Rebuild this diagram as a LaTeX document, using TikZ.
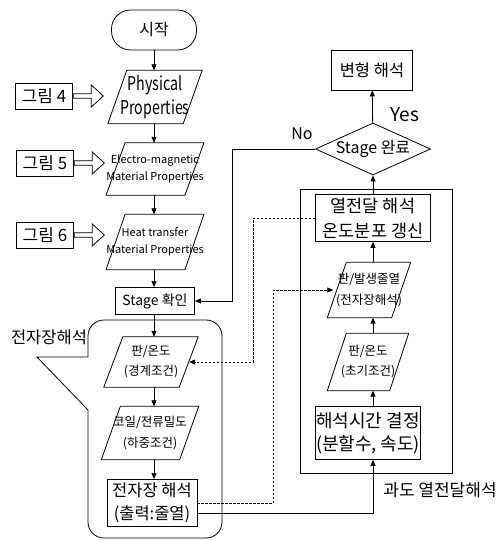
\documentclass[tikz,border=0pt]{standalone}
\usepackage{fontspec}
\setmainfont{Noto Sans CJK KR}
\newfontfamily\narrowfont{Noto Sans CJK KR}[FakeStretch=0.75]
\usetikzlibrary{positioning,arrows.meta,shapes.geometric,shapes.arrows}

\begin{document}
\begin{tikzpicture}[x=1pt,y=-1pt,>={Triangle[length=6pt,width=5pt]},
  box/.style={draw,line width=0.8pt,align=center,inner sep=0pt},
  io/.style={align=center,inner sep=0pt,
    append after command={\pgfextra{\let\ionode=\tikzlastnode
      \draw[line width=0.8pt] (\ionode.south west) -- ([xshift=19pt]\ionode.north west) -- (\ionode.north east) -- ([xshift=-19pt]\ionode.south east) -- cycle;}}},
  figbox/.style={draw,line width=0.8pt,minimum width=57,minimum height=26,inner sep=0pt,font=\fontsize{17}{20}\selectfont},
  fat/.style={draw,line width=0.8pt,single arrow,single arrow head extend=5.5pt,single arrow tip angle=85,minimum width=22,minimum height=30,inner sep=1pt},
  flow/.style={->,line width=0.8pt},
  link/.style={->,line width=0.8pt,dash pattern=on 2.5pt off 1.5pt}]
\useasboundingbox (0,0) rectangle (503,541);

\node[draw,line width=0.8pt,rounded corners=19pt,minimum width=85,minimum height=40,font=\fontsize{16}{19}\selectfont] (start) at (154,30) {시작};
\node[io,minimum width=94,minimum height=53,font=\narrowfont\fontsize{19}{24}\selectfont] (phys) at (155,97) {Physical\\Properties};
\node[io,minimum width=94,minimum height=52,font=\fontsize{11}{17}\selectfont] (elec) at (155,169) {Electro-magnetic\\Material Properties};
\node[io,minimum width=94,minimum height=55,font=\fontsize{11}{17}\selectfont] (heat) at (155,242) {Heat transfer\\Material Properties};
\node[box,minimum width=79,minimum height=27,font=\fontsize{14}{17}\selectfont] (stagechk) at (155,301) {Stage 확인};
\node[io,minimum width=94,minimum height=50,font=\fontsize{12.5}{20}\selectfont] (bc) at (151,362) {판/온도\\(경계조건)};
\node[io,minimum width=97,minimum height=53,font=\fontsize{12.5}{21}\selectfont] (load) at (150,433) {코일/전류밀도\\(하중조건)};
\node[box,minimum width=90,minimum height=47,font=\fontsize{16.5}{23}\selectfont] (emsolve) at (152,503) {전자장 해석\\(출력:줄열)};

\node[figbox] (fig4) at (44,96) {그림 4};
\node[fat,right=0pt of fig4] (fat4) {};
\node[figbox] (fig5) at (45,163) {그림 5};
\node[fat,right=0pt of fig5] (fat5) {};
\node[figbox] (fig6) at (45,235) {그림 6};
\node[fat,right=0pt of fig6] (fat6) {};

\node[font=\fontsize{16.5}{18}\selectfont] (emlabel) at (49,337) {전자장해석};
\draw[line width=0.8pt] (88,357) -- (37,357) -- (88,410) [rounded corners=16pt] -- (88,538) -- (222,538) -- (222,320) -- (88,320) -- (88,357);

\node[draw,line width=0.8pt,minimum width=152,minimum height=284] (trans) at (376,331) {};
\node[font=\fontsize{17}{19}\selectfont] (translabel) at (440,490) {과도 열전달해석};
\node[box,minimum width=81,minimum height=40,font=\fontsize{16.5}{18}\selectfont] (deform) at (372,70) {변형 해석};
\node[draw,line width=0.8pt,diamond,aspect=2.2,minimum width=115,minimum height=52,inner sep=0pt,font=\fontsize{16}{18}\selectfont] (done) at (373,149) {Stage 완료};
\node[box,minimum width=115,minimum height=47,font=\fontsize{17.5}{25}\selectfont] (heatr) at (373,218) {열전달 해석\\온도분포 갱신};
\node[io,minimum width=83,minimum height=55,font=\fontsize{12.5}{21}\selectfont] (joule) at (369,290) {판/발생줄열\\(전자장해석)};
\node[io,minimum width=81,minimum height=57,font=\fontsize{12.5}{20}\selectfont] (init) at (368,362) {판/온도\\(초기조건)};
\node[box,minimum width=105,minimum height=53,font=\fontsize{18}{23}\selectfont] (time) at (368,433) {해석시간 결정\\(분할수, 속도)};
\node[font=\fontsize{19}{22}\selectfont] (yeslabel) at (405,115) {Yes};
\node[font=\fontsize{16}{19}\selectfont] (nolabel) at (302,134) {No};

\draw[flow] (start) -- (start |- phys.north);
\draw[flow] (phys.south -| start) -- (start |- elec.north);
\draw[flow] (elec.south -| start) -- (start |- heat.north);
\draw[flow] (heat.south -| start) -- (start |- stagechk.north);
\draw[flow] (stagechk.south -| start) -- (start |- bc.north);
\draw[flow] (bc.south -| start) -- (start |- load.north);
\draw[flow] (load.south -| start) -- (start |- emsolve.north);
\draw[flow] (time.north -| 373,0) -- (init.south -| 373,0);
\draw[flow] (init.north -| 373,0) -- (joule.south -| 373,0);
\draw[flow] (joule.north -| 373,0) -- (heatr.south);
\draw[flow] (heatr) -- (done);
\draw[flow] (done) -- (deform);
\draw[flow] (done.west) -- ++(-83,0) |- (stagechk.east);
\draw[flow] ([yshift=-10pt]emsolve.east) -| (time.south -| 373,0);
\draw[link] (emsolve.east) -- ++(76,0) |- ([xshift=6pt]joule.west);
\draw[link] (heatr.west) -- ++(-62,0) |- ([xshift=-9pt]bc.east);
\end{tikzpicture}
\end{document}
